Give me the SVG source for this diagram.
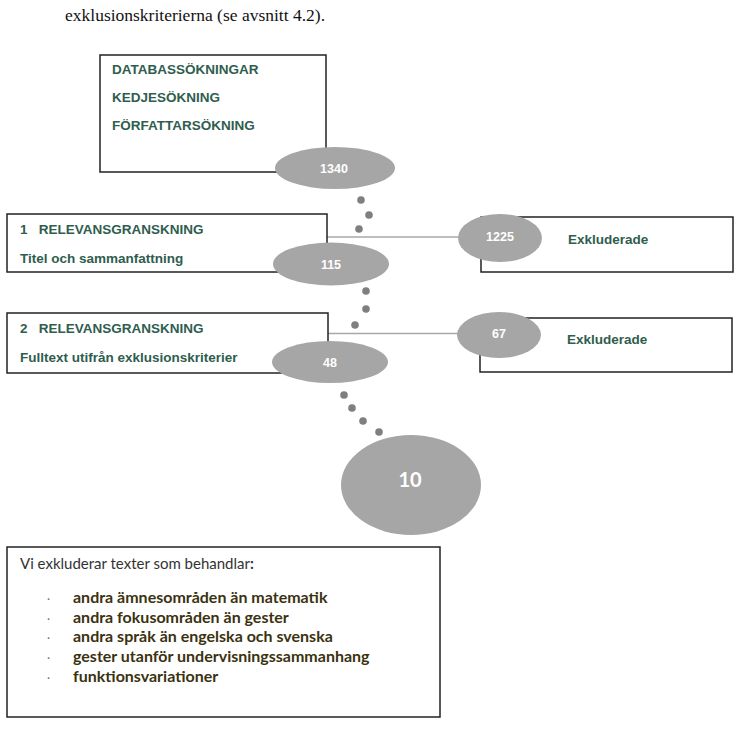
<svg xmlns="http://www.w3.org/2000/svg" width="738" height="741" viewBox="0 0 738 741">
<style>
.box{fill:#fff;stroke:#222;stroke-width:1.5}
.lbl{font-family:"Liberation Sans",Arial,sans-serif;font-weight:bold;font-size:13.5px;fill:#2f5d4e}
.ell{fill:#a6a6a6}
.num{font-family:"Liberation Sans",Arial,sans-serif;font-weight:bold;font-size:12.5px;fill:#fff;text-anchor:middle}
.dot{fill:#7f7f7f}
.conn{stroke:#a8a8a8;stroke-width:1.3;fill:none}
.item{font-family:Lato,"Open Sans",sans-serif;font-weight:bold;font-size:16px;fill:#3b3210}
.bul{font-family:Lato,"Open Sans",sans-serif;font-size:12px;fill:#777}
</style>
<rect width="738" height="741" fill="#fff"/>
<text x="65" y="21" font-family="Liberation Serif,serif" font-size="17.5" fill="#111">exklusionskriterierna (se avsnitt 4.2).</text>

<g id="connectors">
<line class="conn" x1="327" y1="237" x2="462" y2="237"/>
<line class="conn" x1="328" y1="333.5" x2="460" y2="333.5"/>
<circle class="dot" cx="361" cy="200" r="3.8"/>
<circle class="dot" cx="369" cy="215" r="3.8"/>
<circle class="dot" cx="359" cy="229" r="3.8"/>
<circle class="dot" cx="366" cy="291" r="3.8"/>
<circle class="dot" cx="366" cy="309" r="3.8"/>
<circle class="dot" cx="355" cy="325" r="3.8"/>
<circle class="dot" cx="344" cy="395" r="3.8"/>
<circle class="dot" cx="352" cy="408" r="3.8"/>
<circle class="dot" cx="363" cy="421" r="3.8"/>
<circle class="dot" cx="379" cy="432" r="3.8"/>
</g>

<g id="search">
<rect class="box" x="100" y="55" width="226" height="117"/>
<text class="lbl" x="112" y="74">DATABASSÖKNINGAR</text>
<text class="lbl" x="112" y="102">KEDJESÖKNING</text>
<text class="lbl" x="112" y="130">FÖRFATTARSÖKNING</text>
</g>
<g id="n1340">
<ellipse class="ell" cx="335" cy="168" rx="60" ry="21"/>
<text class="num" x="334" y="172.5">1340</text>
</g>

<g id="screen1">
<rect class="box" x="7" y="214" width="320" height="58"/>
<text class="lbl" x="20" y="234" xml:space="preserve">1   RELEVANSGRANSKNING</text>
<text class="lbl" x="20" y="263">Titel och sammanfattning</text>
</g>
<g id="n115">
<ellipse class="ell" cx="331" cy="264" rx="58" ry="21.5"/>
<text class="num" x="331" y="268.5">115</text>
</g>

<g id="excl1">
<rect class="box" x="481" y="217" width="252" height="55"/>
<text class="lbl" x="568" y="244">Exkluderade</text>
</g>
<g id="n1225">
<ellipse class="ell" cx="500" cy="238" rx="42" ry="24"/>
<text class="num" x="500" y="241">1225</text>
</g>

<g id="screen2">
<rect class="box" x="7" y="313" width="321" height="60"/>
<text class="lbl" x="20" y="333" xml:space="preserve">2   RELEVANSGRANSKNING</text>
<text class="lbl" x="20" y="362">Fulltext utifrån exklusionskriterier</text>
</g>
<g id="n48">
<ellipse class="ell" cx="330" cy="362" rx="58" ry="21"/>
<text class="num" x="330" y="366.5">48</text>
</g>

<g id="excl2">
<rect class="box" x="480" y="318" width="252" height="54"/>
<text class="lbl" x="567" y="344">Exkluderade</text>
</g>
<g id="n67">
<ellipse class="ell" cx="499" cy="335" rx="42" ry="23"/>
<text class="num" x="499" y="338">67</text>
</g>

<g id="n10">
<ellipse class="ell" cx="411" cy="485" rx="70" ry="50"/>
<text x="410" y="487" font-family="Lato,'Open Sans',sans-serif" font-weight="bold" font-size="20" fill="#fff" text-anchor="middle">10</text>
</g>

<g id="criteria">
<rect class="box" x="7" y="547" width="433" height="170"/>
<text x="20" y="569" font-family="Lato,'Open Sans',sans-serif" font-size="15" fill="#333">Vi exkluderar texter som behandlar<tspan font-weight="bold">:</tspan></text>
<text class="bul" x="47" y="603">·</text>
<text class="bul" x="47" y="623">·</text>
<text class="bul" x="47" y="642">·</text>
<text class="bul" x="47" y="662">·</text>
<text class="bul" x="47" y="682">·</text>
<text class="item" x="73" y="603">andra ämnesområden än matematik</text>
<text class="item" x="73" y="623">andra fokusområden än gester</text>
<text class="item" x="73" y="642">andra språk än engelska och svenska</text>
<text class="item" x="73" y="662">gester utanför undervisningssammanhang</text>
<text class="item" x="73" y="682">funktionsvariationer</text>
</g>
</svg>
